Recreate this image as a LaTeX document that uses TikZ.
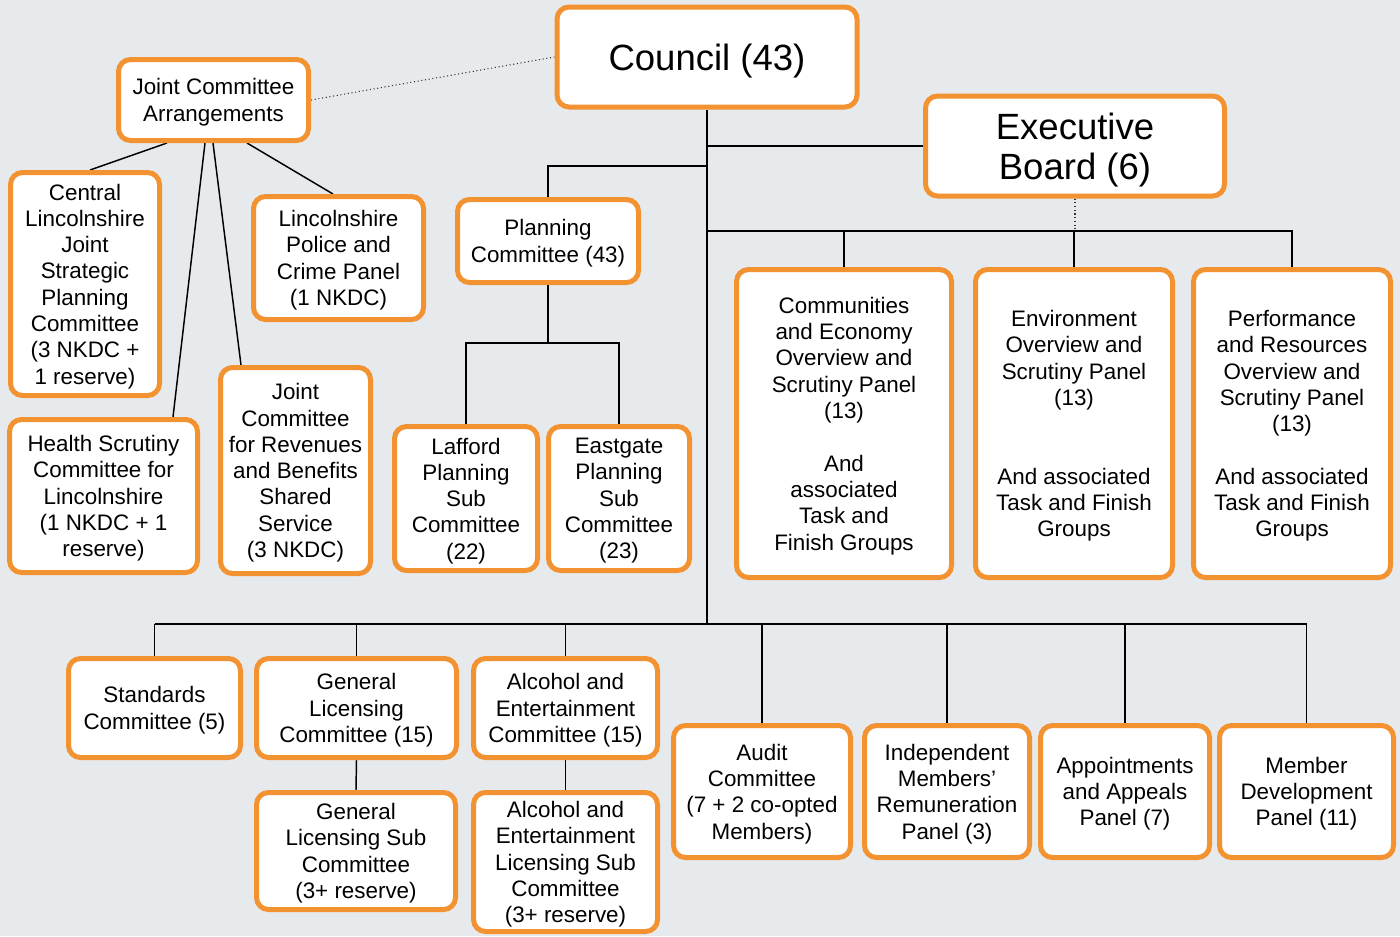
\documentclass[tikz,border=0pt]{standalone}
\usepackage{fontspec}
\setmainfont{Liberation Sans}
\usetikzlibrary{calc}
\definecolor{boxorange}{RGB}{242,146,48}
\definecolor{paper}{RGB}{230,234,237}
\pgfdeclarelayer{bg}
\pgfsetlayers{bg,main}

\begin{document}
\begin{tikzpicture}[x=0.75pt,y=-0.75pt,
    unit/.style={draw=boxorange, line width=3.75pt, fill=white, rounded corners=9pt,
      align=center, inner sep=2pt, text depth=0pt, font=\fontsize{16.8}{19.7}\selectfont},
    big/.style={unit, font=\fontsize{27.4}{30}\selectfont},
    sz/.style 2 args={minimum width=#1*0.75pt, minimum height=#2*0.75pt},
    link/.style={line width=1.1pt},
    loose/.style={dotted, line width=0.8pt, black!80}]
  \useasboundingbox (0,0) rectangle (1400,936);

  % top
  \node[big, sz={300}{100}] (council) at (707,57) {Council (43)};
  \node[big, sz={299}{100}] (exec) at (1075,146) {Executive\\Board (6)};

  % joint committees
  \node[unit, sz={190}{81}] (joint) at (213.5,100) {Joint Committee\\Arrangements};
  \node[unit, sz={149}{223}] (central) at (85,284) {Central\\Lincolnshire\\Joint\\Strategic\\Planning\\Committee\\(3 NKDC +\\1 reserve)};
  \node[unit, sz={170}{123}] (police) at (338.5,258) {Lincolnshire\\Police and\\Crime Panel\\(1 NKDC)};
  \node[unit, sz={188}{153}] (health) at (103.5,496) {Health Scrutiny\\Committee for\\Lincolnshire\\(1 NKDC + 1\\reserve)};
  \node[unit, sz={150}{206}] (revben) at (295.5,470.5) {Joint\\Committee\\for Revenues\\and Benefits\\Shared\\Service\\(3 NKDC)};

  % planning
  \node[unit, sz={181}{83}] (planning) at (548,241) {Planning\\Committee (43)};
  \node[unit, sz={143}{144}] (lafford) at (466,498.5) {Lafford\\Planning\\Sub\\Committee\\(22)};
  \node[unit, sz={141}{144}] (eastgate) at (619,498.5) {Eastgate\\Planning\\Sub\\Committee\\(23)};

  % scrutiny
  \node[unit, sz={215}{308}] (comm) at (844,423.5) {Communities\\and Economy\\Overview and\\Scrutiny Panel\\(13)\\[20pt]And\\associated\\Task and\\Finish Groups};
  \node[unit, sz={197}{308}] (envir) at (1074,423.5) {Environment\\Overview and\\Scrutiny Panel\\(13)\\[39.4pt]And associated\\Task and Finish\\Groups};
  \node[unit, sz={197}{308}] (perf) at (1292,423.5) {Performance\\and Resources\\Overview and\\Scrutiny Panel\\(13)\\[19.7pt]And associated\\Task and Finish\\Groups};

  % regulatory and others
  \node[unit, sz={172}{99}] (standards) at (154.5,708) {Standards\\Committee (5)};
  \node[unit, sz={200}{99}] (genlic) at (356.5,708) {General\\Licensing\\Committee (15)};
  \node[unit, sz={184}{99}] (alcohol) at (565.5,708) {Alcohol and\\Entertainment\\Committee (15)};
  \node[unit, sz={177}{132}] (audit) at (762,791.5) {Audit\\Committee\\(7 + 2 co-opted\\Members)};
  \node[unit, sz={165}{132}] (remun) at (947,791.5) {Independent\\Members’\\Remuneration\\Panel (3)};
  \node[unit, sz={169}{132}] (appeals) at (1125,791.5) {Appointments\\and Appeals\\Panel (7)};
  \node[unit, sz={174}{132}] (memdev) at (1306.5,791.5) {Member\\Development\\Panel (11)};
  \node[unit, sz={199}{117}] (genlicsub) at (356,851) {General\\Licensing Sub\\Committee\\(3+ reserve)};
  \node[unit, sz={184}{139}] (alcsub) at (565.5,862) {Alcohol and\\Entertainment\\Licensing Sub\\Committee\\(3+ reserve)};

  \coordinate (planbus) at (707,166);
  \coordinate (scrbus) at (707,231);
  \coordinate (lowbus) at (707,624);
  \coordinate (subbus) at (548,343);

  \begin{pgfonlayer}{bg}
    \fill[paper] (0,0) rectangle (1400,936);
    \draw[loose] (joint.east) -- (council.west);
    \draw[link] ($(joint.south)+(-46.5,0)$) -- ($(central.north)+(5,0)$);
    \draw[link] ($(joint.south)+(-8.5,0)$) -- ($(health.north)+(69.5,0)$);
    \draw[link] ($(joint.south)+(-0.5,0)$) -- ($(revben.north)+(-54.5,0)$);
    \draw[link] ($(joint.south)+(33.5,0)$) -- ($(police.north)+(-5.5,0)$);

    \draw[link] (council.south) -- (lowbus);
    \draw[link] (planbus) -| (planning.north);
    \draw[link] (planbus |- exec.west) -- (exec.west);
    \draw[link] (planning.south) -- (subbus);
    \draw[link] (lafford.north) |- (subbus) -| (eastgate.north);

    \draw[link] (scrbus) -| (perf.north);
    \foreach \p in {comm,envir}
      \draw[link] (\p.north) -- (\p.north |- scrbus);
    \draw[loose] (exec.south) -- (exec.south |- scrbus);

    \draw[link] (standards.north |- lowbus) -- (memdev.north |- lowbus);
    \foreach \p in {standards,genlic,alcohol,audit,remun,appeals,memdev}
      \draw[link] (\p.north |- lowbus) -- (\p.north);
    \draw[link] (genlic.south) -- (genlicsub.north);
    \draw[link] (alcohol.south) -- (alcsub.north);
  \end{pgfonlayer}
\end{tikzpicture}
\end{document}
